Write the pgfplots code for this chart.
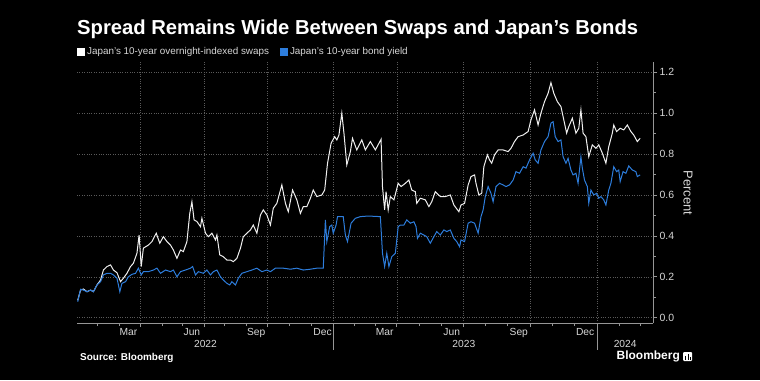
\documentclass[border=0pt]{standalone}
\usepackage{fontspec}
\setmainfont{Liberation Sans}
\usepackage{pgfplots}
\pgfplotsset{compat=1.18}
\definecolor{bbblue}{RGB}{45,125,220}
\definecolor{gridc}{RGB}{90,90,90}
\definecolor{axc}{RGB}{150,150,150}
\definecolor{lbl}{RGB}{215,215,215}
\definecolor{linew}{RGB}{240,240,240}
\begin{document}
\begin{tikzpicture}[x=1bp,y=1bp]
\fill[black] (0,0) rectangle (760,380);
\useasboundingbox (0,0) rectangle (760,380);
\node[anchor=west, text=white, inner sep=0pt, font=\fontsize{20.3}{22}\selectfont\bfseries] at (77,351) {Spread Remains Wide Between Swaps and Japan’s Bonds};
\begin{axis}[
  at={(77bp,57bp)}, anchor=south west, scale only axis,
  width=576bp, height=261bp,
  xmin=1, xmax=808, ymin=-0.026, ymax=1.25,
  clip=false,
  axis x line*=bottom, axis y line*=right,
  axis line style={axc, line width=0.8pt},
  tick align=outside,
  major tick length=4bp, minor tick length=3bp,
  every tick/.style={axc, line width=0.6pt},
  ytick={0,0.2,0.4,0.6,0.8,1.0,1.2},
  minor ytick={0.1,0.3,0.5,0.7,0.9,1.1},
  /pgf/number format/fixed, /pgf/number format/fixed zerofill, /pgf/number format/precision=1,
  /pgf/number format/assume math mode=true,
  yticklabel style={text=lbl, font=\fontsize{10.5}{12}\selectfont, xshift=-1bp},
  ymajorgrids, xmajorgrids,
  grid style={gridc, dotted, line width=0.5pt},
  xtick={90,179,267,360,449,542,636,730},
  xticklabel=\empty,
  minor xtick={30,60,120,149,208,238,298,329,390,419,480,511,573,604,667,698,761,790},
  extra x ticks={73,162,252,345,432,526,620,713},
  extra x tick labels={Mar,Jun,Sep,Dec,Mar,Jun,Sep,Dec},
  extra x tick style={grid=none, major tick length=0pt, xticklabel style={text=lbl, font=\fontsize{10.3}{11}\selectfont, yshift=-2bp}},
  legend columns=2,
  legend cell align=left,
  legend style={at={(axis description cs:0.0,1.038)}, anchor=west, draw=none, fill=none, text=lbl, font=\fontsize{9.9}{11}\selectfont, inner sep=0pt,
    /tikz/every even column/.append style={column sep=9bp}},
]
\addplot[linew, line width=1bp, legend image code/.code={\fill[white] (0bp,-3.5bp) rectangle (7bp,3.5bp);}] coordinates {
(2,0.085)(6,0.135)(10,0.14)(15,0.127)(20,0.135)(24,0.127)(29,0.16)(34,0.184)(38,0.233)(43,0.25)(48,0.258)(52,0.233)(57,0.22)(62,0.176)(66,0.193)(71,0.217)(76,0.25)(80,0.266)(85,0.315)(88,0.404)(91,0.25)(94,0.34)(101,0.355)(106,0.372)(112,0.413)(117,0.364)(122,0.396)(127,0.372)(132,0.355)(136,0.331)(141,0.29)(146,0.331)(150,0.323)(155,0.372)(159,0.51)(162,0.567)(165,0.478)(169,0.47)(174,0.445)(176,0.486)(181,0.413)(185,0.396)(190,0.413)(195,0.38)(197,0.404)(201,0.307)(206,0.298)(211,0.282)(216,0.282)(220,0.274)(225,0.29)(230,0.34)(234,0.396)(239,0.413)(244,0.429)(248,0.453)(253,0.413)(258,0.502)(262,0.527)(267,0.502)(272,0.453)(276,0.535)(281,0.559)(288,0.649)(293,0.559)(297,0.518)(303,0.624)(309,0.576)(314,0.51)(318,0.543)(323,0.543)(328,0.584)(332,0.624)(337,0.592)(344,0.6)(348,0.624)(352,0.755)(357,0.853)(362,0.885)(365,0.869)(368,0.893)(372,1.0)(375,0.902)(379,0.747)(384,0.812)(387,0.877)(393,0.82)(400,0.869)(405,0.82)(412,0.861)(419,0.82)(427,0.872)(429,0.64)(432,0.527)(434,0.616)(437,0.527)(440,0.592)(445,0.576)(451,0.657)(455,0.641)(461,0.657)(466,0.673)(470,0.624)(475,0.616)(477,0.559)(482,0.584)(489,0.576)(494,0.543)(498,0.567)(503,0.616)(510,0.592)(517,0.592)(524,0.6)(529,0.551)(536,0.518)(539,0.551)(544,0.559)(549,0.649)(553,0.69)(558,0.698)(560,0.657)(564,0.6)(568,0.608)(571,0.738)(576,0.796)(579,0.771)(582,0.755)(586,0.796)(591,0.82)(598,0.82)(605,0.812)(609,0.828)(614,0.861)(619,0.885)(626,0.893)(633,0.91)(637,0.967)(642,1.016)(647,0.942)(651,1.0)(656,1.056)(661,1.097)(665,1.149)(669,1.097)(674,1.056)(679,1.032)(683,0.967)(687,0.902)(690,0.934)(695,0.975)(700,0.902)(704,0.926)(707,1.016)(710,0.902)(714,0.885)(718,0.787)(723,0.845)(728,0.828)(732,0.845)(737,0.804)(742,0.755)(746,0.836)(751,0.902)(753,0.942)(757,0.91)(762,0.926)(767,0.918)(772,0.942)(777,0.91)(781,0.893)(786,0.861)(790,0.877)
};
\addlegendentry{Japan’s 10-year overnight-indexed swaps}
\addplot[bbblue, line width=1bp, legend image code/.code={\fill[bbblue] (0bp,-3.5bp) rectangle (7bp,3.5bp);}] coordinates {
(2,0.078)(6,0.139)(10,0.135)(15,0.127)(20,0.135)(24,0.127)(29,0.16)(34,0.176)(38,0.209)(43,0.217)(48,0.217)(52,0.209)(57,0.193)(61,0.127)(64,0.168)(69,0.176)(73,0.2)(78,0.212)(83,0.217)(87,0.242)(91,0.209)(94,0.225)(101,0.225)(108,0.233)(113,0.242)(118,0.217)(125,0.233)(132,0.225)(136,0.233)(141,0.2)(146,0.225)(153,0.233)(160,0.242)(163,0.25)(167,0.209)(171,0.225)(178,0.217)(183,0.233)(188,0.209)(192,0.225)(197,0.233)(202,0.2)(206,0.184)(211,0.168)(215,0.16)(218,0.176)(223,0.16)(227,0.193)(232,0.217)(239,0.225)(246,0.233)(253,0.242)(260,0.225)(267,0.233)(272,0.225)(279,0.242)(290,0.242)(300,0.237)(309,0.242)(318,0.233)(328,0.237)(337,0.242)(346,0.242)(349,0.478)(351,0.372)(355,0.445)(358,0.453)(360,0.413)(364,0.453)(366,0.494)(374,0.494)(377,0.404)(380,0.372)(385,0.462)(391,0.486)(398,0.494)(409,0.497)(426,0.494)(429,0.315)(432,0.25)(435,0.315)(438,0.25)(442,0.298)(447,0.315)(451,0.445)(454,0.453)(459,0.453)(463,0.478)(468,0.462)(473,0.469)(476,0.445)(478,0.388)(482,0.413)(487,0.404)(491,0.396)(496,0.364)(501,0.396)(505,0.421)(510,0.404)(515,0.429)(519,0.421)(524,0.429)(529,0.388)(533,0.372)(537,0.347)(539,0.38)(544,0.372)(549,0.462)(553,0.469)(558,0.462)(563,0.413)(567,0.494)(570,0.527)(573,0.592)(577,0.641)(581,0.608)(584,0.567)(588,0.641)(593,0.657)(598,0.649)(602,0.641)(607,0.649)(612,0.673)(616,0.714)(621,0.706)(626,0.738)(630,0.731)(635,0.771)(640,0.804)(643,0.771)(647,0.755)(651,0.82)(656,0.861)(661,0.885)(665,0.951)(668,0.958)(671,0.885)(675,0.861)(679,0.869)(682,0.787)(686,0.755)(689,0.779)(693,0.722)(696,0.698)(700,0.706)(703,0.657)(707,0.787)(709,0.731)(712,0.673)(716,0.641)(718,0.559)(721,0.624)(725,0.6)(729,0.608)(732,0.584)(735,0.592)(739,0.576)(742,0.551)(746,0.624)(749,0.657)(753,0.738)(757,0.714)(760,0.722)(762,0.665)(766,0.714)(770,0.706)(774,0.742)(779,0.722)(784,0.714)(786,0.69)(790,0.698)
};
\addlegendentry{Japan’s 10-year bond yield}
\draw[axc, line width=0.6pt] (axis cs:360,-0.026) -- ([yshift=-27bp]axis cs:360,-0.026);
\draw[axc, line width=0.6pt] (axis cs:730,-0.026) -- ([yshift=-27bp]axis cs:730,-0.026);
\node[text=lbl, font=\fontsize{10.3}{11}\selectfont] at ([yshift=-21bp]axis cs:181,-0.026) {2022};
\node[text=lbl, font=\fontsize{10.3}{11}\selectfont] at ([yshift=-21bp]axis cs:543,-0.026) {2023};
\node[text=lbl, font=\fontsize{10.3}{11}\selectfont] at ([yshift=-21bp]axis cs:769,-0.026) {2024};
\end{axis}
\node[rotate=-90, text=lbl, font=\fontsize{13}{14}\selectfont] at (688,187) {Percent};
\node[anchor=west, text=white, inner sep=0pt, font=\fontsize{10}{11}\selectfont\bfseries] at (80,22) {Source: Bloomberg};
\node[anchor=east, text=white, inner sep=0pt, font=\fontsize{12}{13}\selectfont\bfseries] at (680,24) {Bloomberg};
\fill[white, rounded corners=1bp] (683,19) rectangle (692,28);
\fill[black] (685,20.5) rectangle (686,24);
\fill[black] (687.5,20.5) rectangle (688.5,26);
\fill[black] (690,20.5) rectangle (691,23);
\end{tikzpicture}
\end{document}
